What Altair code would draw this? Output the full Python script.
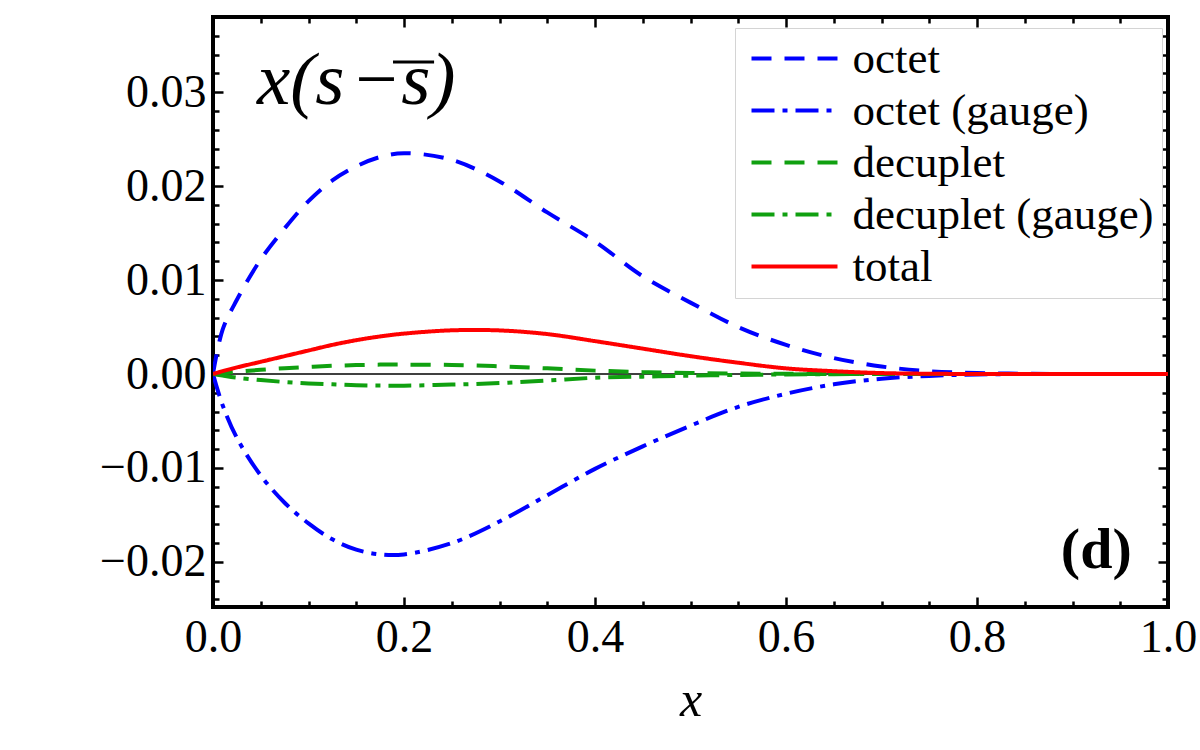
import altair as alt
import pandas as pd

FONT = "Liberation Serif"

# ---- data ----
x_vals = [0, 0.01, 0.025, 0.05, 0.075, 0.1, 0.125, 0.15, 0.175, 0.2, 0.25, 0.3, 0.35,
          0.4, 0.45, 0.5, 0.55, 0.6, 0.65, 0.7, 0.75, 0.8, 0.85, 0.9, 0.95, 1.0]
octet = [0, 0.0047, 0.0079, 0.0122, 0.0155, 0.0184, 0.0206, 0.0221, 0.0231, 0.0235,
         0.0228, 0.0205, 0.0172, 0.0141, 0.0104, 0.0076, 0.0050, 0.0031, 0.0017,
         0.0008, 0.0003, 0.0001, 0.00003, 0, 0, 0]
octet_gauge = [0, -0.0033, -0.0068, -0.0108, -0.0137, -0.0159, -0.0176, -0.0187,
               -0.0192, -0.0192, -0.0180, -0.0157, -0.0129, -0.0101, -0.0077, -0.0055,
               -0.0035, -0.0021, -0.0011, -0.0005, -0.0002, -0.00005, 0, 0, 0, 0]
decuplet = [0, 0.0001, 0.00025, 0.00045, 0.00062, 0.00075, 0.00087, 0.00095, 0.001, 0.001,
            0.00096, 0.00082, 0.0006, 0.00036, 0.0002, 0.0001, 0.00005, 0.00002,
            0, 0, 0, 0, 0, 0, 0, 0]
decuplet_gauge = [0, -0.00017, -0.0004, -0.00065, -0.00085, -0.001, -0.0011, -0.0012,
                  -0.00123, -0.00124, -0.00113, -0.00097, -0.0007, -0.0004, -0.00028,
                  -0.00018, -0.0001, -0.00005, -0.00002, 0, 0, 0, 0, 0, 0, 0]
total = [0, 0.0003, 0.0007, 0.0013, 0.0019, 0.0025, 0.0031, 0.0036, 0.0040, 0.0043,
         0.00465, 0.00464, 0.00425, 0.0035, 0.0027, 0.0019, 0.0012, 0.0006, 0.0003,
         0.0001, 0.00003, 0, 0, 0, 0, 0]

series_names = ["octet", "octet (gauge)", "decuplet", "decuplet (gauge)", "total"]
series_values = [octet, octet_gauge, decuplet, decuplet_gauge, total]
series_colors = ["#0000ff", "#0000ff", "#10a010", "#10a010", "#ff0000"]
series_dashes = [[20, 13], [23, 8, 5, 8], [20, 13], [23, 8, 5, 8], [1, 0]]
series_widths = [4, 4, 4, 4, 3.5]

x_major = [0.0, 0.2, 0.4, 0.6, 0.8, 1.0]
x_minor = [0.05, 0.1, 0.15, 0.25, 0.3, 0.35, 0.45, 0.5, 0.55, 0.65, 0.7, 0.75, 0.85, 0.9, 0.95]
y_major = [-0.02, -0.01, 0.0, 0.01, 0.02, 0.03]
y_minor = [-0.024, -0.022, -0.018, -0.016, -0.014, -0.012, -0.008, -0.006, -0.004, -0.002,
           0.002, 0.004, 0.006, 0.008, 0.012, 0.014, 0.016, 0.018, 0.022, 0.024, 0.026,
           0.028, 0.032, 0.034, 0.036]

x_domain = [0, 1]
y_domain = [-0.0248, 0.038]

title_text = "x(s\u200a\u2212s)"
title_pos = (0.046, 0.0287)
overbar_x = (0.1885, 0.2315)
overbar_y = 0.0332
panel_text = "(d)"
panel_pos = (0.962, -0.0207)

# ---- tables ----
rows = []
for name, vals in zip(series_names, series_values):
    for xv, yv in zip(x_vals, vals):
        rows.append({"x": xv, "value": yv, "series": name})
df = pd.DataFrame(rows)

xs = alt.Scale(domain=x_domain, nice=False, zero=False)
ys = alt.Scale(domain=y_domain, nice=False, zero=False)

leg = alt.Legend(
    title=None, orient="none", legendX=522, legendY=11, direction="vertical",
    symbolType="stroke", symbolSize=7396, symbolStrokeWidth=3.5,
    clipHeight=45, rowPadding=6, labelFontSize=45, labelFont=FONT,
    labelColor="black", labelOffset=13, symbolOffset=6.5, padding=8,
    strokeColor="#d4d4d4", fillColor="white", labelLimit=600,
)

lines = alt.Chart(df).mark_line(interpolate="catmull-rom", clip=True).encode(
    x=alt.X("x:Q", scale=xs, axis=alt.Axis(
        orient="bottom", values=x_major, format=".1f", ticks=False, tickSize=0,
        domain=False, grid=False, labelFont=FONT, labelFontSize=46, labelColor="black",
        labelPadding=8, labelFlush=False, labelOverlap=False,
        title="x", titleFont=FONT, titleFontSize=50, titleFontStyle="italic",
        titleFontWeight="normal", titleColor="black", titleY=108,
        titleBaseline="alphabetic")),
    y=alt.Y("value:Q", scale=ys, axis=alt.Axis(
        orient="left", values=y_major, format=".2f", ticks=False, tickSize=0,
        domain=False, grid=False, labelFont=FONT, labelFontSize=46, labelColor="black",
        labelPadding=7, labelOverlap=False, title=None)),
    color=alt.Color("series:N", scale=alt.Scale(domain=series_names, range=series_colors),
                    legend=leg),
    strokeDash=alt.StrokeDash("series:N", scale=alt.Scale(domain=series_names, range=series_dashes),
                              legend=leg),
    strokeWidth=alt.StrokeWidth("series:N", scale=alt.Scale(domain=series_names, range=series_widths),
                                legend=None),
)

zero_df = pd.DataFrame({"y": [0.0]})
zero_line = alt.Chart(zero_df).mark_rule(color="black", strokeWidth=1.5).encode(
    y=alt.Y("y:Q", scale=ys, axis=None)
)

title_df = pd.DataFrame({"x": [title_pos[0]], "y": [title_pos[1]], "t": [title_text]})
title_mark = alt.Chart(title_df).mark_text(
    font=FONT, fontSize=75, fontStyle="italic", align="left", baseline="alphabetic",
    color="black").encode(
    x=alt.X("x:Q", scale=xs, axis=None), y=alt.Y("y:Q", scale=ys, axis=None), text="t:N")

bar_df = pd.DataFrame({"x": [overbar_x[0]], "x2": [overbar_x[1]], "y": [overbar_y]})
overbar = alt.Chart(bar_df).mark_rule(color="black", strokeWidth=3).encode(
    x=alt.X("x:Q", scale=xs, axis=None), x2="x2:Q", y=alt.Y("y:Q", scale=ys, axis=None))

panel_df = pd.DataFrame({"x": [panel_pos[0]], "y": [panel_pos[1]], "t": [panel_text]})
panel_mark = alt.Chart(panel_df).mark_text(
    font=FONT, fontSize=58, fontWeight="bold", align="right", baseline="alphabetic",
    color="black").encode(
    x=alt.X("x:Q", scale=xs, axis=None), y=alt.Y("y:Q", scale=ys, axis=None), text="t:N")

dummy = pd.DataFrame({"x": [0.5], "y": [0.0]})


def tick_layer(xorient, yorient, xvalues, yvalues, size):
    common = dict(labels=False, domain=False, grid=False, title=None, tickColor="black",
                  tickWidth=2.5, tickSize=size, offset=-size)
    return alt.Chart(dummy).mark_point(opacity=0).encode(
        x=alt.X("x:Q", scale=xs, axis=alt.Axis(orient=xorient, values=xvalues, **common)),
        y=alt.Y("y:Q", scale=ys, axis=alt.Axis(orient=yorient, values=yvalues, **common)),
    )


ticks = [
    tick_layer("bottom", "left", x_major, y_major, 10),
    tick_layer("bottom", "left", x_minor, y_minor, 6),
    tick_layer("top", "right", x_major, y_major, 10),
    tick_layer("top", "right", x_minor, y_minor, 6),
]

chart = alt.layer(zero_line, lines, title_mark, overbar, panel_mark, *ticks).resolve_axis(
    x="independent", y="independent"
).properties(
    width=955, height=590,
    autosize=alt.AutoSizeParams(type="none"),
    padding={"left": 213, "top": 17, "right": 32, "bottom": 143},
    background="white",
).configure_view(stroke="black", strokeWidth=4)

chart.save("out.html", embed_options={"renderer": "svg", "actions": False})
